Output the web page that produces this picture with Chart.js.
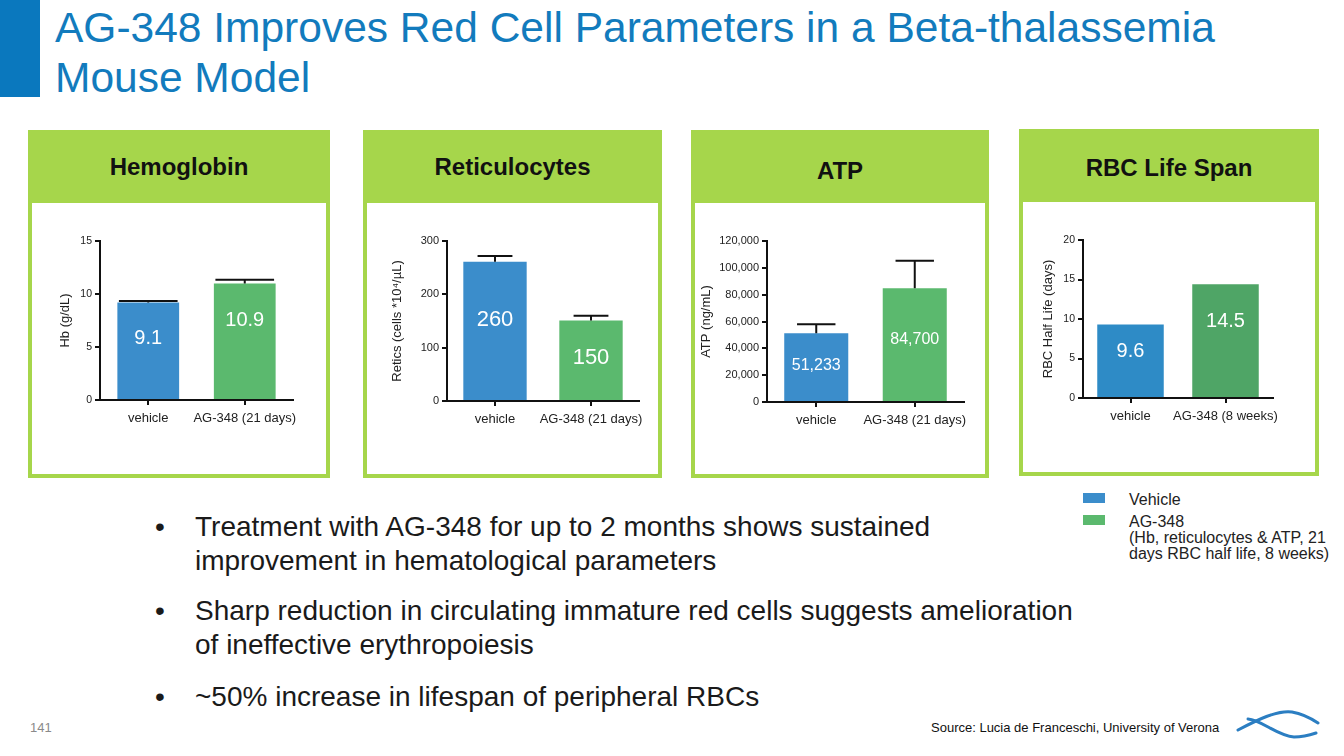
<!DOCTYPE html>
<html>
<head>
<meta charset="utf-8">
<script src="https://cdn.jsdelivr.net/npm/chart.js@4.4.1/dist/chart.umd.min.js"></script>
<style>
  body { margin: 0; width: 1344px; height: 756px; overflow: hidden; background: #fff; font-family: "Liberation Sans", Arial, sans-serif; position: relative; }
  .abs { position: absolute; }
  .sidebar { left: 0; top: 0; width: 40px; height: 97px; background: #0a78be; }
  .title { left: 55px; top: 3px; font-size: 42.5px; line-height: 50px; color: #127bbd; white-space: nowrap; }
  .panel { background: #a6d64b; box-sizing: border-box; border: 4px solid #a6d64b; border-top: none; }
  .panel .head { height: 73px; line-height: 73px; text-align: center; font-weight: bold; font-size: 24px; color: #111; }
  .panel .body { background: #fff; position: absolute; left: 0; right: 0; top: 73px; bottom: 0; }
  .bullet { left: 155px; font-size: 28px; line-height: 34px; color: #1a1a1a; white-space: nowrap; }
  .bullet span { position: absolute; left: 40px; }
  .legend { font-size: 16px; line-height: 16px; color: #222; white-space: nowrap; }
  .swatch { width: 22px; height: 10px; }
  canvas { position: absolute; }
</style>
</head>
<body>
<div class="abs sidebar"></div>
<div class="abs title">AG-348 Improves Red Cell Parameters in a Beta-thalassemia<br>Mouse Model</div>

<div class="abs panel" style="left:28px;top:130px;width:302px;height:348px"><div class="head">Hemoglobin</div><div class="body"></div></div>
<div class="abs panel" style="left:363px;top:130px;width:299px;height:348px"><div class="head">Reticulocytes</div><div class="body"></div></div>
<div class="abs panel" style="left:691px;top:130px;width:298px;height:348px"><div class="head" style="padding-top:4px;box-sizing:border-box">ATP</div><div class="body"></div></div>
<div class="abs panel" style="left:1019px;top:129px;width:300px;height:347px"><div class="head" style="padding-top:2px;box-sizing:border-box">RBC Life Span</div><div class="body"></div></div>

<canvas id="hbChart"></canvas>
<canvas id="retChart"></canvas>
<canvas id="atpChart"></canvas>
<canvas id="rbcChart"></canvas>

<div class="abs swatch" style="left:1083px;top:493px;background:#3b8dcb"></div>
<div class="abs swatch" style="left:1083px;top:515px;background:#5bb96e"></div>
<div class="abs legend" style="left:1129px;top:492px">Vehicle</div>
<div class="abs legend" style="left:1129px;top:514px">AG-348<br>(Hb, reticulocytes &amp; ATP, 21<br>days RBC half life, 8 weeks)</div>

<div class="abs bullet" style="top:510px">•<span>Treatment with AG-348 for up to 2 months shows sustained<br>improvement in hematological parameters</span></div>
<div class="abs bullet" style="top:594px">•<span>Sharp reduction in circulating immature red cells suggests amelioration<br>of ineffective erythropoiesis</span></div>
<div class="abs bullet" style="top:680px">•<span>~50% increase in lifespan of peripheral RBCs</span></div>

<div class="abs" style="left:30px;top:720px;font-size:13px;color:#8a8a8a">141</div>
<div class="abs" style="left:931px;top:720px;font-size:13px;color:#111;white-space:nowrap">Source: Lucia de Franceschi, University of Verona</div>
<svg class="abs" style="left:1232px;top:706px" width="100" height="42">
  <path d="M6 24 C 25 14, 45 4, 60 6 C 72 8, 80 13, 86 17" stroke="#2b7ec2" stroke-width="3" fill="none" stroke-linecap="round"/>
  <path d="M16 13 C 30 14, 45 30, 62 31 C 72 31, 78 29, 84 27" stroke="#2b7ec2" stroke-width="3" fill="none" stroke-linecap="round"/>
</svg>

<script>
// Hemoglobin
const hbLabels = ["vehicle", "AG-348 (21 days)"];
const hbValues = [9.2, 11.0];
const hbErrors = [0.15, 0.35];
const hbText = ["9.1", "10.9"];
const hbTicks = [0, 5, 10, 15];

// Reticulocytes
const retLabels = ["vehicle", "AG-348 (21 days)"];
const retValues = [261, 151];
const retErrors = [11, 9];
const retText = ["260", "150"];
const retTicks = [0, 100, 200, 300];

// ATP
const atpLabels = ["vehicle", "AG-348 (21 days)"];
const atpValues = [51233, 84700];
const atpErrors = [6700, 20600];
const atpText = ["51,233", "84,700"];
const atpTicks = [0, 20000, 40000, 60000, 80000, 100000, 120000];

// RBC half life (no error bars shown)
const rbcLabels = ["vehicle", "AG-348 (8 weeks)"];
const rbcValues = [9.3, 14.4];
const rbcText = ["9.6", "14.5"];
const rbcTicks = [0, 5, 10, 15, 20];

const FONT = '"Liberation Sans", Arial, sans-serif';
const AXIS = "#111";

// error bars + white value text inside each bar
const barExtras = {
  id: "barExtras",
  afterDatasetsDraw(chart, args, opts) {
    const ctx = chart.ctx;
    const y = chart.scales.y;
    const meta = chart.getDatasetMeta(0);
    const data = chart.data.datasets[0].data;
    ctx.save();
    meta.data.forEach((bar, i) => {
      if (opts.errors) {
        const top = y.getPixelForValue(data[i] + opts.errors[i]);
        const half = (bar.width * opts.capFrac) / 2;
        ctx.strokeStyle = AXIS;
        ctx.lineWidth = 2;
        ctx.beginPath();
        ctx.moveTo(bar.x, bar.y);
        ctx.lineTo(bar.x, top);
        ctx.moveTo(bar.x - half, top);
        ctx.lineTo(bar.x + half, top);
        ctx.stroke();
      }
      ctx.fillStyle = "#fff";
      ctx.font = opts.fontSize + "px " + FONT;
      ctx.textAlign = "center";
      ctx.textBaseline = "middle";
      ctx.fillText(opts.text[i], bar.x, y.getPixelForValue(data[i] * opts.labelFrac[i]));
    });
    ctx.restore();
  },
};

function makeChart(id, geo, labels, values, colors, ticks, title, extras) {
  const canvas = document.getElementById(id);
  canvas.width = geo.width;
  canvas.height = geo.height;
  canvas.style.left = geo.left + "px";
  canvas.style.top = geo.top + "px";

  new Chart(canvas, {
    type: "bar",
    data: {
      labels: labels,
      datasets: [
        {
          data: values,
          backgroundColor: colors,
          borderWidth: 0,
          barPercentage: geo.barPct,
          categoryPercentage: 1,
        },
      ],
    },
    options: {
      responsive: false,
      animation: false,
      devicePixelRatio: 1,
      layout: { padding: { top: 10, right: 20, left: 0, bottom: 0 } },
      plugins: {
        legend: { display: false },
        tooltip: { enabled: false },
        barExtras: extras,
      },
      scales: {
        x: {
          afterFit: (s) => { s.height = 40; },
          grid: { display: true, drawOnChartArea: false, offset: false, tickLength: 5, color: AXIS, lineWidth: 2 },
          border: { display: true, color: AXIS, width: 2 },
          ticks: { color: "#222", font: { size: 13, family: FONT }, padding: 6, autoSkip: false, maxRotation: 0, minRotation: 0 },
        },
        y: {
          min: ticks[0],
          max: ticks[ticks.length - 1],
          afterBuildTicks: (s) => { s.ticks = ticks.map((v) => ({ value: v })); },
          afterFit: (s) => { s.width = geo.axisW; },
          grid: { display: true, drawOnChartArea: false, tickLength: 5, color: AXIS, lineWidth: 2 },
          border: { display: true, color: AXIS, width: 2 },
          ticks: { color: "#222", font: { size: geo.tickSize, family: FONT }, padding: 3 },
          title: { display: true, text: title, color: "#222", font: { size: 13, family: FONT }, padding: 0 },
        },
      },
    },
    plugins: [barExtras],
  });
}

const blue = "#3b8dcb";
const green = "#5bb96e";

makeChart("hbChart",
  { left: 58, top: 231, width: 255, height: 209, axisW: 42, barPct: 0.64, tickSize: 10.5 },
  hbLabels, hbValues, [blue, green], hbTicks, "Hb (g/dL)",
  { errors: hbErrors, capFrac: 0.95, text: hbText, labelFrac: [0.63, 0.68], fontSize: 20 });

makeChart("retChart",
  { left: 390, top: 231, width: 269, height: 210, axisW: 57, barPct: 0.66, tickSize: 11 },
  retLabels, retValues, [blue, green], retTicks, "Retics (cells *10⁴/µL)",
  { errors: retErrors, capFrac: 0.55, text: retText, labelFrac: [0.58, 0.54], fontSize: 22 });

makeChart("atpChart",
  { left: 699, top: 231, width: 285, height: 211, axisW: 68, barPct: 0.65, tickSize: 11 },
  atpLabels, atpValues, [blue, green], atpTicks, "ATP (ng/mL)",
  { errors: atpErrors, capFrac: 0.6, text: atpText, labelFrac: [0.53, 0.55], fontSize: 16 });

makeChart("rbcChart",
  { left: 1041, top: 230, width: 252, height: 208, axisW: 42, barPct: 0.7, tickSize: 10.5 },
  rbcLabels, rbcValues, ["#2e8bc6", "#4fa566"], rbcTicks, "RBC Half Life (days)",
  { errors: null, capFrac: 0, text: rbcText, labelFrac: [0.63, 0.67], fontSize: 20 });
</script>
</body>
</html>
